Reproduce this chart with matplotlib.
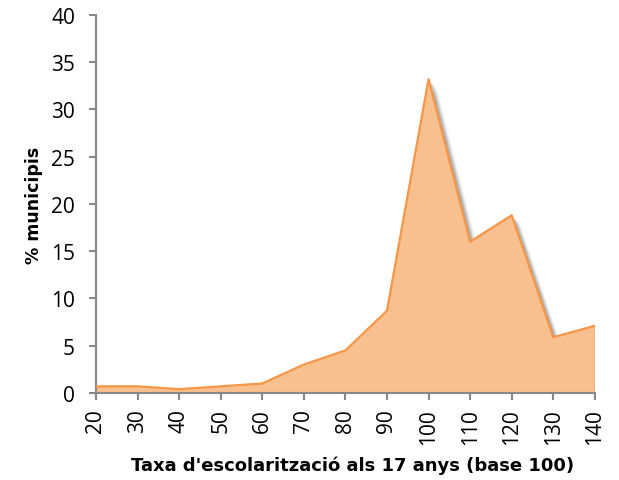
import numpy as np
import matplotlib
matplotlib.use("Agg")
import matplotlib.pyplot as plt
import matplotlib.patheffects as pe

plt.rcParams['font.family'] = ['Open Sans', 'DejaVu Sans']

taxa = [20, 30, 40, 50, 60, 70, 80, 90, 100, 110, 120, 130, 140]
pct_municipis = [0.7, 0.7, 0.4, 0.7, 1.0, 3.0, 4.5, 8.7, 33.2, 16.0, 18.8, 5.9, 7.1]

fig = plt.figure(figsize=(6.19, 4.81), dpi=100)
ax = fig.add_axes([0.155, 0.181, 0.806, 0.786])

poly = ax.fill_between(taxa, pct_municipis, 0, facecolor='#F9C08F',
                       edgecolor='none', zorder=2)
# soft grey shadow under the area
shadow = [pe.SimplePatchShadow(offset=(o, -o), shadow_rgbFace='#808080', alpha=a)
          for o, a in [(6, 0.08), (5, 0.12), (4, 0.18), (3, 0.25), (2, 0.3)]]
poly.set_path_effects(shadow + [pe.Normal()])
ax.plot(taxa, pct_municipis, color='#F79646', lw=1.6, zorder=3)
ax.plot([taxa[-1], taxa[-1]], [0, pct_municipis[-1]], color='#F79646', lw=1.0, zorder=3)

ax.set_xlim(20, 140)
ax.set_ylim(0, 40)
ax.set_xticks(taxa)
ax.set_xticklabels([str(t) for t in taxa], rotation=90, fontsize=15)
ax.set_yticks(np.arange(0, 41, 5))
ax.tick_params(axis='y', labelsize=15, pad=10)
ax.tick_params(axis='x', pad=6)
ax.tick_params(colors='#888888', labelcolor='black', length=5, width=1.5)

for side in ['top', 'right']:
    ax.spines[side].set_visible(False)
for side in ['left', 'bottom']:
    ax.spines[side].set_color('#888888')
    ax.spines[side].set_linewidth(1.5)

ax.set_ylabel('% municipis', fontsize=12.5, fontweight='bold', family='DejaVu Sans',
              labelpad=6)
ax.set_xlabel("Taxa d'escolarització als 17 anys (base 100)", fontsize=13,
              fontweight='bold', family='DejaVu Sans')
ax.xaxis.set_label_coords(0.514, -0.166)

fig.savefig('out.png', dpi=100)
